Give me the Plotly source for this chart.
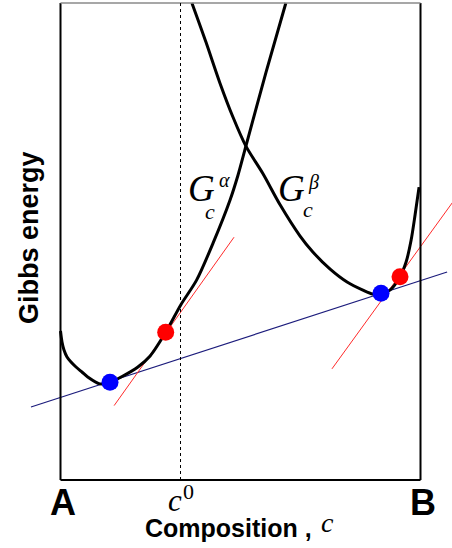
import plotly.graph_objects as go

# ---- data (composition c in [0,1] from A to B, Gibbs energy G in arbitrary units 0..1) ----
alpha_c = [0.000, 0.0042, 0.0097, 0.0181, 0.0292, 0.0431, 0.0597, 0.0764, 0.109, 0.1375,
           0.171, 0.215, 0.249, 0.2922, 0.334, 0.378, 0.424, 0.471, 0.493, 0.515, 0.571, 0.626]
alpha_g = [0.3124, 0.2893, 0.2725, 0.2579, 0.2474, 0.2369, 0.2264, 0.2155, 0.2015, 0.2048,
           0.217, 0.237, 0.260, 0.3096, 0.367, 0.419, 0.497, 0.587, 0.639, 0.700, 0.855, 1.000]

beta_c = [0.365, 0.404, 0.443, 0.479, 0.515, 0.5625, 0.610, 0.665, 0.701, 0.749, 0.796,
          0.840, 0.867, 0.8903, 0.915, 0.9431, 0.960, 0.974, 0.985, 0.996]
beta_g = [1.000, 0.918, 0.832, 0.761, 0.700, 0.642, 0.577, 0.512, 0.478, 0.442, 0.415,
          0.398, 0.390, 0.3914, 0.398, 0.4262, 0.457, 0.503, 0.556, 0.614]

common_tangent_c = [-0.082, 1.074]
common_tangent_g = [0.153, 0.436]
tangent_alpha_c = [0.149, 0.482]
tangent_alpha_g = [0.156, 0.509]
tangent_beta_c = [0.754, 1.09]
tangent_beta_g = [0.233, 0.583]

blue_c = [0.1375, 0.8903]
blue_g = [0.2048, 0.3914]
red_c = [0.2922, 0.9431]
red_g = [0.3096, 0.4262]

c0 = 1 / 3

W, H = 452, 548


def px(x):
    return x / W


def py(y):
    return 1 - y / H


fig = go.Figure()

fig.add_trace(go.Scatter(x=common_tangent_c, y=common_tangent_g, mode="lines",
                         line=dict(color="#1c1c7c", width=1.2), hoverinfo="skip"))
fig.add_trace(go.Scatter(x=tangent_alpha_c, y=tangent_alpha_g, mode="lines",
                         line=dict(color="#ff2a2a", width=1), hoverinfo="skip"))
fig.add_trace(go.Scatter(x=tangent_beta_c, y=tangent_beta_g, mode="lines",
                         line=dict(color="#ff2a2a", width=1), hoverinfo="skip"))
fig.add_trace(go.Scatter(x=alpha_c, y=alpha_g, mode="lines", line_shape="spline",
                         line=dict(color="black", width=3, smoothing=0.8), hoverinfo="skip"))
fig.add_trace(go.Scatter(x=beta_c, y=beta_g, mode="lines", line_shape="spline",
                         line=dict(color="black", width=3, smoothing=0.8), hoverinfo="skip"))
fig.add_trace(go.Scatter(x=blue_c, y=blue_g, mode="markers",
                         marker=dict(color="#0000ff", size=17, line=dict(width=0)), hoverinfo="skip"))
fig.add_trace(go.Scatter(x=red_c, y=red_g, mode="markers",
                         marker=dict(color="#ff0000", size=17, line=dict(width=0)), hoverinfo="skip"))

shapes = [
    dict(type="line", xref="x", yref="y", x0=0, x1=0, y0=0, y1=1, line=dict(color="black", width=2)),
    dict(type="line", xref="x", yref="y", x0=1, x1=1, y0=0, y1=1, line=dict(color="black", width=2)),
    dict(type="line", xref="x", yref="y", x0=0, x1=1, y0=0, y1=0, line=dict(color="black", width=2)),
    dict(type="line", xref="x", yref="y", x0=0, x1=1, y0=1, y1=1, line=dict(color="#8a8a8a", width=1.5)),
    dict(type="line", xref="x", yref="y", x0=c0, x1=c0, y0=0, y1=1,
         line=dict(color="black", width=1, dash="dot")),
]

sans = "Liberation Sans, Arial, sans-serif"
serif = "Liberation Serif, Times New Roman, serif"


def ann(text, x, y, size, family, bold=False, italic=False, angle=0):
    return dict(text=f"<b>{text}</b>" if bold else text, x=px(x), y=py(y), xref="paper", yref="paper",
                showarrow=False, xanchor="center", yanchor="middle", textangle=angle,
                font=dict(family=family, size=size, color="black",
                          style="italic" if italic else "normal"))


annotations = [
    ann("Gibbs energy", 29, 238, 27, sans, bold=True, angle=-90),
    ann("A", 62.5, 502, 36, sans, bold=True),
    ann("B", 423, 502, 36, sans, bold=True),
    ann("Composition ,", 228, 528, 25, sans, bold=True),
    ann("c", 327, 522, 28, serif, italic=True),
    ann("c", 175, 500, 31, serif, italic=True),
    ann("0", 188, 491, 22, serif),
    ann("G", 201, 188, 37, serif, italic=True),
    ann("α", 224, 180, 20, serif, italic=True),
    ann("c", 210, 211, 22, serif, italic=True),
    ann("G", 291, 188, 37, serif, italic=True),
    ann("β", 313, 182, 20, serif, italic=True),
    ann("c", 308, 210, 22, serif, italic=True),
]

fig.update_layout(
    width=W, height=H, margin=dict(l=0, r=0, t=0, b=0),
    paper_bgcolor="white", plot_bgcolor="white", showlegend=False,
    xaxis=dict(range=[-60.5 / 360, (W - 60.5) / 360], visible=False, fixedrange=True),
    yaxis=dict(range=[(480 - H) / 477, 480 / 477], visible=False, fixedrange=True),
    shapes=shapes, annotations=annotations,
)

fig.write_html("out.html")
